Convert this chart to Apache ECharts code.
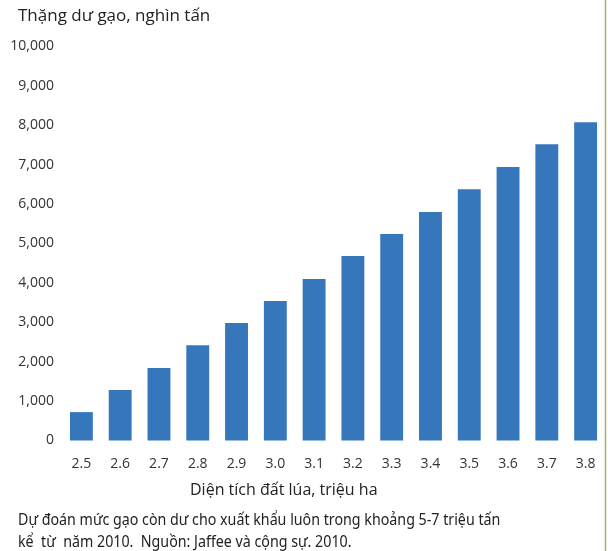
<!DOCTYPE html>
<html>
<head>
<meta charset="utf-8">
<script src="https://cdn.jsdelivr.net/npm/echarts@6/dist/echarts.min.js"></script>
<style>
  html, body { margin: 0; padding: 0; background: #fff; }
  #chart { width: 608px; height: 551px; }
</style>
</head>
<body>
<div id="chart"></div>
<script>
  // diện tích đất lúa (triệu ha)
  var areas = ['2.5', '2.6', '2.7', '2.8', '2.9', '3.0', '3.1', '3.2', '3.3', '3.4', '3.5', '3.6', '3.7', '3.8'];
  // thặng dư gạo (nghìn tấn)
  var surplus = [720, 1280, 1840, 2420, 2980, 3540, 4100, 4680, 5240, 5800, 6380, 6940, 7520, 8080];

  var chart = echarts.init(document.getElementById('chart'));
  chart.setOption({
    animation: false,
    grid: {
      left: 62,
      right: 3,
      top: 46.5,
      bottom: 110.5
    },
    xAxis: {
      type: 'category',
      data: areas,
      axisLine: { show: false },
      axisTick: { show: false },
      axisLabel: {
        margin: 17,
        fontFamily: 'Open Sans',
        fontSize: 14,
        color: '#333'
      }
    },
    yAxis: {
      type: 'value',
      min: 0,
      max: 10000,
      interval: 1000,
      splitLine: { show: false },
      axisLine: { show: false },
      axisTick: { show: false },
      axisLabel: {
        margin: 8,
        fontFamily: 'Open Sans',
        fontSize: 14,
        color: '#333',
        formatter: function (v) { return v.toLocaleString('en-US'); }
      }
    },
    series: [
      {
        type: 'bar',
        data: surplus,
        barWidth: '59%',
        itemStyle: { color: '#3677bc' }
      }
    ],
    graphic: [
      {
        type: 'text',
        left: 18,
        top: 8,
        style: {
          text: 'Thặng dư gạo, nghìn tấn',
          font: '17px "Open Sans"',
          fill: '#222'
        }
      },
      {
        type: 'text',
        left: 190,
        top: 482,
        style: {
          text: 'Diện tích đất lúa, triệu ha',
          font: '16px "Open Sans"',
          fill: '#222'
        }
      },
      {
        type: 'text',
        x: 18,
        y: 509,
        scaleX: 0.89,
        style: {
          text: 'Dự đoán mức gạo còn dư cho xuất khẩu luôn trong khoảng 5-7 triệu tấn\nkể  từ  năm 2010.  Nguồn: Jaffee và cộng sự. 2010.',
          font: '16px "Noto Sans"',
          lineHeight: 22,
          fill: '#222'
        }
      },
      {
        type: 'line',
        shape: { x1: 605.5, y1: 0, x2: 605.5, y2: 551 },
        style: { stroke: '#a3ab72', lineWidth: 1.5 }
      }
    ]
  });
</script>
</body>
</html>
